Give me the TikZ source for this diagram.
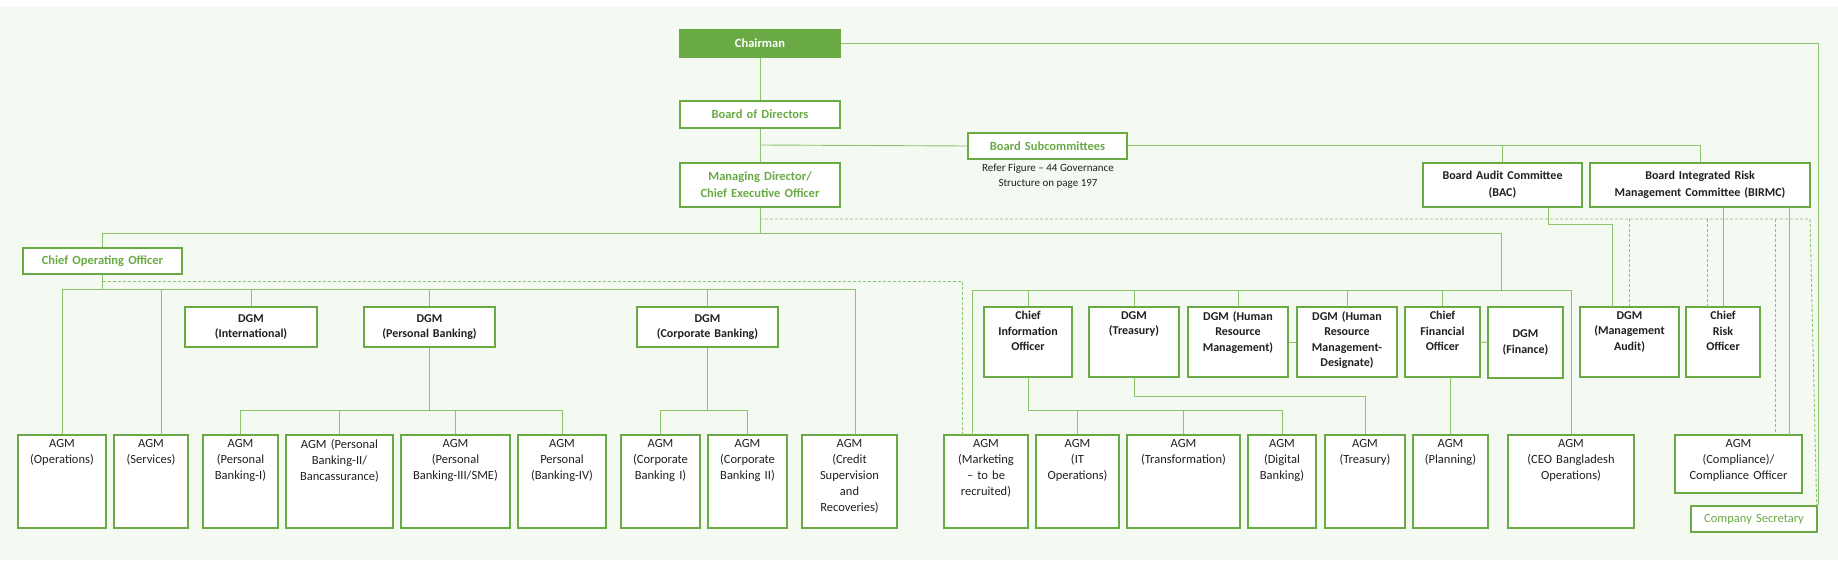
\documentclass[tikz,border=0pt]{standalone}
\usepackage{fontspec}
\setmainfont{Carlito}
\definecolor{gbox}{HTML}{6AAA45}
\definecolor{gline}{HTML}{8DC26F}
\definecolor{gbg}{HTML}{F4F9F1}
\definecolor{ink}{HTML}{231F20}
\tikzset{
  box/.style={draw=gbox,line width=1.3pt,fill=white,inner sep=0pt},
  gtxt/.style={text=gbox,font=\bfseries\fontsize{12.5}{16}\selectfont,align=center},
  btxt/.style={text=ink,font=\bfseries\fontsize{12}{15.5}\selectfont,align=center},
  rtxt/.style={text=ink,font=\fontsize{12.5}{16}\selectfont,align=center},
  ln/.style={draw=gline,line width=0.9pt},
  dl/.style={draw=gline,line width=0.9pt,dash pattern=on 3pt off 2pt},
}
% centred box
\newcommand\cbx[7]{\node[box,#6,minimum width={#4-#2},minimum height={#5-#3},text width={#4-#2-4}] (#1) at ({(#2+#4)/2},{-(#3+#5)/2}) {#7};}
% top-aligned box
\newcommand\tbx[7]{\node[box,minimum width={#4-#2},minimum height={#5-#3}] (#1) at ({(#2+#4)/2},{-(#3+#5)/2}) {};
  \node[#6,anchor=north,text width={#4-#2-4},inner sep=0pt] (#1t) at ([yshift=-5pt]#1.north) {#7};}
\begin{document}
\begin{tikzpicture}[x=1pt,y=1pt]
\useasboundingbox (0,0) rectangle (1838,-567);
\fill[gbg] (0,-7) rectangle (1838,-560);
% ---- boxes
\node[box,fill=gbox,text=white,font=\bfseries\fontsize{12.5}{16}\selectfont,minimum width=160,minimum height=27] (chair) at (760,-43.5) {Chairman};
\cbx{bod}{680}{101}{840}{128}{gtxt}{Board of Directors}
\cbx{md}{680}{163}{840}{207}{gtxt,font=\bfseries\fontsize{12.5}{17}\selectfont}{Managing Director/\\Chief Executive Officer}
\cbx{bsc}{968}{133}{1127}{159}{gtxt}{Board Subcommittees}
\node[rtxt,font=\fontsize{11}{14.5}\selectfont] (ref) at (1048,-176) {Refer Figure -- 44 Governance\\Structure on page 197};
\cbx{bac}{1423}{163}{1582}{207}{btxt,font=\bfseries\fontsize{12}{17}\selectfont}{Board Audit Committee\\(BAC)}
\cbx{birmc}{1590}{163}{1810}{207}{btxt,font=\bfseries\fontsize{12}{17}\selectfont}{Board Integrated Risk\\Management Committee (BIRMC)}
\cbx{coo}{23}{248}{182}{274}{gtxt}{Chief Operating Officer}
\cbx{dgmint}{185}{307}{317}{347}{btxt}{DGM\\(International)}
\cbx{dgmpb}{364}{307}{495}{347}{btxt}{DGM\\(Personal Banking)}
\cbx{dgmcb}{637}{307}{778}{347}{btxt}{DGM\\(Corporate Banking)}
\tbx{cio}{984}{307}{1072}{377}{btxt}{Chief\\Information\\Officer}
\tbx{dgmtr}{1089}{307}{1179}{377}{btxt}{DGM\\(Treasury)}
\tbx{hrm}{1188}{307}{1288}{377}{btxt}{DGM (Human\\Resource\\Management)}
\tbx{hrmd}{1297}{307}{1397}{377}{btxt}{DGM\,\,(Human\\Resource\\Management-\\Designate)}
\tbx{cfo}{1405}{307}{1480}{377}{btxt}{Chief\\Financial\\Officer}
\cbx{fin}{1488}{307}{1563}{378}{btxt}{DGM\\(Finance)}
\tbx{mau}{1580}{307}{1679}{377}{btxt}{DGM\\(Management\\Audit)}
\tbx{cro}{1686}{307}{1760}{377}{btxt}{Chief\\Risk\\Officer}
% AGM row
\tbx{ops}{18}{435}{106}{528}{rtxt}{AGM\\(Operations)}
\tbx{serv}{114}{435}{188}{528}{rtxt}{AGM\\(Services)}
\tbx{pb1}{203}{435}{278}{528}{rtxt}{AGM\\(Personal\\Banking-I)}
\tbx{pb2}{286}{435}{393}{528}{rtxt}{AGM (Personal\\Banking-II/\\Bancassurance)}
\tbx{pb3}{401}{435}{510}{528}{rtxt}{AGM\\(Personal\\Banking-III/SME)}
\tbx{pb4}{518}{435}{606}{528}{rtxt}{AGM\\Personal\\(Banking-IV)}
\tbx{cb1}{621}{435}{700}{528}{rtxt}{AGM\\(Corporate\\Banking I)}
\tbx{cb2}{708}{435}{787}{528}{rtxt}{AGM\\(Corporate\\Banking II)}
\tbx{cred}{802}{435}{897}{528}{rtxt}{AGM\\(Credit\\Supervision\\and\\Recoveries)}
\tbx{mk}{944}{435}{1028}{528}{rtxt}{AGM\\(Marketing\\-- to be\\recruited)}
\tbx{it}{1036}{435}{1119}{528}{rtxt}{AGM\\(IT\\Operations)}
\tbx{tf}{1127}{435}{1240}{528}{rtxt}{AGM\\(Transformation)}
\tbx{dig}{1248}{435}{1316}{528}{rtxt}{AGM\\(Digital\\Banking)}
\tbx{try}{1325}{435}{1405}{528}{rtxt}{AGM\\(Treasury)}
\tbx{pl}{1413}{435}{1488}{528}{rtxt}{AGM\\(Planning)}
\tbx{ceo}{1508}{435}{1634}{528}{rtxt}{AGM\\(CEO Bangladesh\\Operations)}
\tbx{comp}{1675}{435}{1802}{493}{rtxt}{AGM\\(Compliance)/\\Compliance Officer}
\cbx{cs}{1691}{506}{1817}{532}{gtxt,font=\fontsize{12.5}{15}\selectfont}{Company Secretary}
% ---- coordinates
\coordinate (sub) at (0,-145);
\coordinate (mdbus) at (0,-233);
\coordinate (mddash) at (0,-219);
\coordinate (cbus) at (0,-289);
\coordinate (cdash) at (0,-281);
\coordinate (rbus) at (0,-290);
\coordinate (pbbus) at (0,-410);
\coordinate (ciobus) at (0,-410);
\coordinate (trbus) at (0,-396);
% ---- top connectors
\draw[ln] (chair.south) -- (bod.north);
\draw[ln] (bod.south) -- (md.north);
\draw[ln] (md.north |- sub) -- (bsc.west);
\draw[ln] (bsc.east |- sub) -| (birmc.north);
\draw[ln] (bac.north) -- (bac.north |- sub);
\draw[ln] (chair.east) -| ([xshift=1pt]cs.north east);
% MD
\draw[ln] (md.south) -- (md.south |- mdbus);
\draw[ln] (coo.north) |- (1501,-233) -- (1501,-290);
\draw[dl] (md.south |- mddash) -- (1810,-219) -- ([xshift=-1pt]cs.north east |- cs.north);
\draw[dl] (mau.north |- mddash) -- (mau.north);
\draw[dl] (1707,-219) -- (1707,-307);
\draw[dl] (1775,-219) -- (1775,-435);
% BAC / BIRMC
\draw[ln] ([xshift=46pt]bac.south) |- (1612,-224) -- (1612,-307);
\draw[ln] (cro.north) -- (cro.north |- birmc.south);
\draw[ln] (1789,-207) -- (1789,-435);
% COO
\draw[ln] (coo.south) -- (coo.south |- cbus);
\draw[ln] (ops.north |- cbus) -- (855,-289);
\draw[ln] (ops.north) -- (ops.north |- cbus);
\draw[ln] (161,-435) -- (161,-289);
\draw[ln] (dgmint.north) -- (dgmint.north |- cbus);
\draw[ln] (dgmpb.north) -- (dgmpb.north |- cbus);
\draw[ln] (dgmcb.north) -- (dgmcb.north |- cbus);
\draw[ln] (855,-289) -- (855,-435);
\draw[dl] (coo.south |- cdash) -- (962,-281) -- (962,-435);
% personal banking
\draw[ln] (dgmpb.south) -- (dgmpb.south |- pbbus);
\draw[ln] (pb1.north) |- (pb4.north |- pbbus) -- (pb4.north);
\draw[ln] (pb2.north) -- (pb2.north |- pbbus);
\draw[ln] (pb3.north) -- (pb3.north |- pbbus);
% corporate
\draw[ln] (dgmcb.south) -- (dgmcb.south |- pbbus);
\draw[ln] (cb1.north) |- (cb2.north |- pbbus) -- (cb2.north);
% right bus
\draw[ln] (972,-435) -- (972,-290) -- (ceo.north |- rbus) -- (ceo.north);
\draw[ln] (cio.north) -- (cio.north |- rbus);
\draw[ln] (dgmtr.north) -- (dgmtr.north |- rbus);
\draw[ln] (hrm.north) -- (hrm.north |- rbus);
\draw[ln] (hrmd.north) -- (hrmd.north |- rbus);
\draw[ln] (cfo.north) -- (cfo.north |- rbus);
\draw[ln] (hrm.east) -- (hrmd.west);
\draw[ln] (cfo.east) -- (fin.west);
% CIO
\draw[ln] (cio.south) |- (dig.north |- ciobus) -- (dig.north);
\draw[ln] (it.north) -- (it.north |- ciobus);
\draw[ln] (tf.north) -- (tf.north |- ciobus);
% treasury
\draw[ln] (dgmtr.south) |- (try.north |- trbus) -- (try.north);
% CFO
\draw[ln] (pl.north) -- (pl.north |- cfo.south);
\end{tikzpicture}
\end{document}
